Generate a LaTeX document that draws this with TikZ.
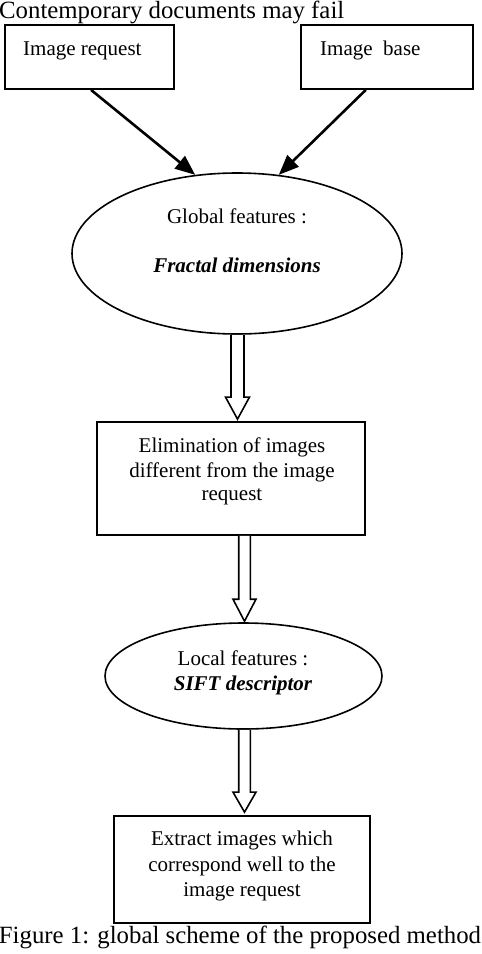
\documentclass[tikz,border=0pt]{standalone}
\usepackage{fontspec}
\setmainfont{Liberation Serif}
\usetikzlibrary{shapes.geometric,arrows.meta,calc}
\tikzset{
  boxnode/.style={draw,line width=1.8pt,rectangle,inner sep=0pt},
  ellnode/.style={draw,line width=1.6pt,ellipse,inner sep=0pt},
  txt/.style={inner sep=0pt,anchor=base,font=\fontsize{21}{24}\selectfont},
  bigtxt/.style={inner sep=0pt,anchor=base,font=\fontsize{24.8}{28}\selectfont},
  solidarrow/.style={line width=2.6pt,-{Triangle[length=20pt,width=16pt]}},
  harrow/.style={line width=1.6pt,line join=miter,fill=white}
}
\newcommand\hollowarrow[5]{% start, tip, half shaft, half head, head length
  \draw[harrow] let \p1=(#1), \p2=(#2) in
    (\x2-#3,\y1) -- (\x2-#3,\y2+#5) -- (\x2-#4,\y2+#5) -- (\x2,\y2)
    -- (\x2+#4,\y2+#5) -- (\x2+#3,\y2+#5) -- (\x2+#3,\y1);
}
\begin{document}
\begin{tikzpicture}[x=1pt,y=-1pt]
\useasboundingbox (0,0) rectangle (482,954);
% top text
\node[bigtxt,anchor=base west] (top) at (-1,18.5) {Contemporary documents may fail};
% top boxes
\node[boxnode,minimum width=169pt,minimum height=64pt] (req) at (89.5,57) {};
\node[txt,anchor=base west] (reqt) at (23,55) {Image request};
\node[boxnode,minimum width=172pt,minimum height=64pt] (base) at (387,57) {};
\node[txt,anchor=base west] (baset) at (320,55) {Image\ \ base};
% ellipse 1
\node[ellnode,minimum width=330pt,minimum height=161pt] (glob) at (237,253.5) {};
\node[txt] (globa) at (237,223) {Global features :};
\node[txt,font=\fontsize{21}{24}\selectfont\bfseries\itshape] (globb) at (237,272) {Fractal dimensions};
% diagonal arrows
\draw[solidarrow] ($(req.south west)!0.509!(req.south east)$) -- (glob.118);
\draw[solidarrow] ($(base.south west)!0.378!(base.south east)$) -- (glob.62);
% box 2
\node[boxnode,minimum width=268pt,minimum height=113pt] (elim) at (231,478.5) {};
\node[txt] (elima) at (232,452) {Elimination of images};
\node[txt] (elimb) at (232,477) {different from the image};
\node[txt] (elimc) at (232,500.5) {request};
% ellipse 2
\node[ellnode,minimum width=277pt,minimum height=106pt] (loc) at (243.5,676) {};
\node[txt] (loca) at (243,665) {Local features :};
\node[txt,font=\fontsize{21}{24}\selectfont\bfseries\itshape] (locb) at (243,690) {SIFT descriptor};
% box 3
\node[boxnode,minimum width=256pt,minimum height=107pt] (ext) at (242,869.5) {};
\node[txt] (exta) at (242,845) {Extract images which};
\node[txt] (extb) at (242,871) {correspond well to the};
\node[txt] (extc) at (242,896) {image request};
% hollow arrows
\coordinate (s1) at (glob.south);
\coordinate (t1) at ($(glob.south |- elim.north)+(0.5,-2)$);
\hollowarrow{s1}{t1}{6.5pt}{12pt}{22pt}
\coordinate (s2) at ($(loc.north |- elim.south)+(1,0)$);
\coordinate (t2) at ($(loc.north)+(1,-1)$);
\hollowarrow{s2}{t2}{5.8pt}{11.5pt}{22pt}
\coordinate (s3) at ($(loc.south)+(1,0)$);
\coordinate (t3) at ($(loc.south |- ext.north)+(1,-3)$);
\hollowarrow{s3}{t3}{5.8pt}{11.5pt}{20pt}
% caption
\node[bigtxt] (cap) at (240,943) {Figure 1: global scheme of the proposed method};
\end{tikzpicture}
\end{document}
